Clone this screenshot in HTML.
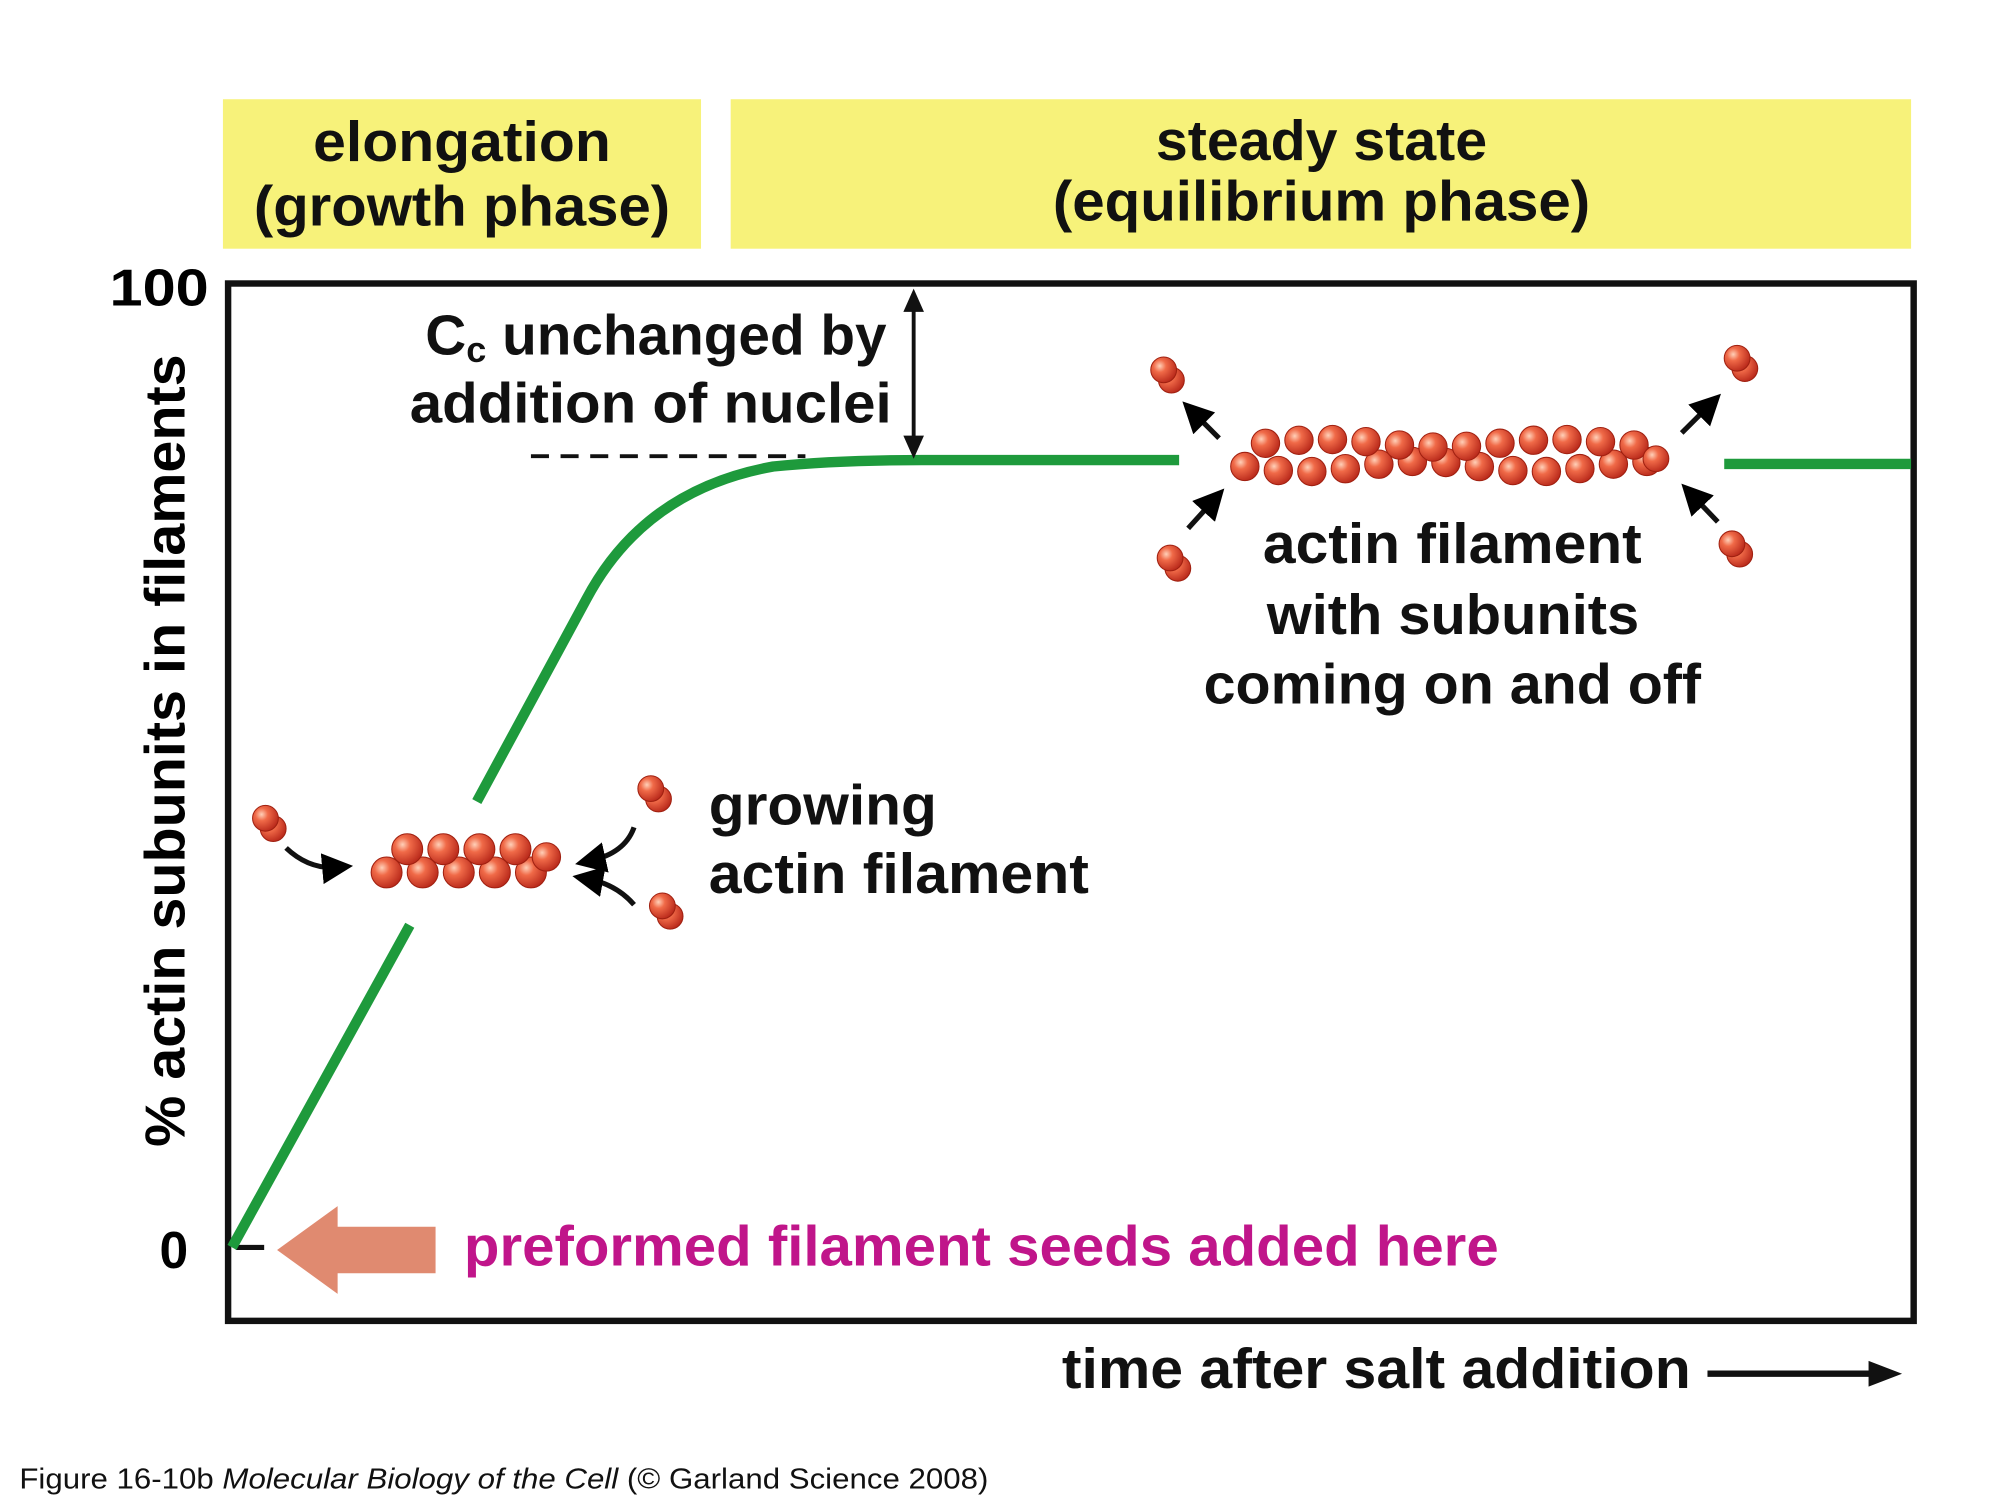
<!DOCTYPE html>
<html><head><meta charset="utf-8"><style>
html,body{margin:0;padding:0;background:#fff;}
svg{display:block;}
text{font-family:"Liberation Sans",sans-serif;font-weight:bold;}
</style></head><body>
<svg id="s" width="2000" height="1500" viewBox="0 0 1552 1164" preserveAspectRatio="none" xmlns="http://www.w3.org/2000/svg">
<defs>
<radialGradient id="b" cx="0.35" cy="0.35" r="0.7">
<stop offset="0" stop-color="#ffd0b8"/><stop offset="0.35" stop-color="#f06a48"/><stop offset="1" stop-color="#b8281a"/>
</radialGradient>
<marker id="ah" markerWidth="6" markerHeight="6" refX="3" refY="3" orient="auto" markerUnits="strokeWidth">
<path d="M0,0 L6,3 L0,6 z" fill="#000"/></marker>
</defs>
<rect x="173" y="77" width="371" height="116" fill="#f7f27a"/>
<rect x="567" y="77" width="916" height="116" fill="#f7f27a"/>
<g font-size="44" fill="#111" lengthAdjust="spacingAndGlyphs">
<text x="243" y="125" textLength="231" lengthAdjust="spacingAndGlyphs">elongation</text>
<text x="197" y="175" textLength="323" lengthAdjust="spacingAndGlyphs">(growth phase)</text>
<text x="897" y="124" textLength="257" lengthAdjust="spacingAndGlyphs">steady state</text>
<text x="817" y="171" textLength="417" lengthAdjust="spacingAndGlyphs">(equilibrium phase)</text>
</g>
<rect x="177" y="220" width="1308" height="805" fill="none" stroke="#111" stroke-width="5"/>
<text x="85" y="237" font-size="40" textLength="77" lengthAdjust="spacingAndGlyphs">100</text>
<text x="146" y="984" font-size="40" text-anchor="end">0</text>
<line x1="183" y1="968" x2="205" y2="968" stroke="#111" stroke-width="4"/>
<text transform="translate(143,890) rotate(-90)" font-size="44" textLength="615" lengthAdjust="spacingAndGlyphs">% actin subunits in filaments</text>
<g fill="none" stroke="#1e9a3c" stroke-width="8">
<path d="M180,968 L318,718"/>
<path d="M370,622 L455,465 Q500,380 600,362 Q650,357 715,357 L915,357"/>
<path d="M1338,360 L1483,360"/>
</g>
<line x1="412" y1="354" x2="625" y2="354" stroke="#111" stroke-width="3" stroke-dasharray="14,9"/>
<line x1="709" y1="238" x2="709" y2="342" stroke="#111" stroke-width="3"/>
<path d="M701,242 L709,224 L717,242 z M701,338 L709,356 L717,338 z" fill="#111"/>
<g font-size="44" fill="#111">
<text x="330" y="275" textLength="358" lengthAdjust="spacingAndGlyphs">C<tspan font-size="28" dy="6">c</tspan><tspan dy="-6"> unchanged by</tspan></text>
<text x="318" y="328" textLength="374" lengthAdjust="spacingAndGlyphs">addition of nuclei</text>
<text x="550" y="640" textLength="177" lengthAdjust="spacingAndGlyphs">growing</text>
<text x="550" y="693" textLength="295" lengthAdjust="spacingAndGlyphs">actin filament</text>
<text x="980" y="437" textLength="294" lengthAdjust="spacingAndGlyphs">actin filament</text>
<text x="983" y="492" textLength="289" lengthAdjust="spacingAndGlyphs">with subunits</text>
<text x="934" y="546" textLength="386" lengthAdjust="spacingAndGlyphs">coming on and off</text>
</g>
<path d="M338,952 L262,952 L262,936 L215,970 L262,1004 L262,988 L338,988 z" fill="#e08a70"/>
<text x="360" y="982" font-size="44" fill="#c0158a" textLength="803" lengthAdjust="spacingAndGlyphs">preformed filament seeds added here</text>
<text x="824" y="1077" font-size="44" fill="#111" textLength="488" lengthAdjust="spacingAndGlyphs">time after salt addition</text>
<line x1="1325" y1="1066" x2="1455" y2="1066" stroke="#111" stroke-width="5"/>
<path d="M1450,1056 L1476,1066 L1450,1076 z" fill="#111"/>
<g fill="none" stroke="#111" stroke-width="4" marker-end="url(#ah)">
<path d="M222,658 Q240,675 262,673"/>
<path d="M492,642 Q485,662 458,668"/>
<path d="M492,702 Q478,686 456,682"/>
<path d="M946,340 L926,320"/>
<path d="M922,410 L942,388"/>
<path d="M1305,336 L1327,314"/>
<path d="M1333,405 L1313,384"/>
</g>
<g id="balls"></g>
<text x="15" y="1155" font-size="22" style="font-weight:normal" fill="#111" textLength="752" lengthAdjust="spacingAndGlyphs">Figure 16-10b  <tspan font-style="italic">Molecular Biology of the Cell</tspan> (© Garland Science 2008)</text>
</svg>
<script>
var g=document.getElementById('balls'),ns='http://www.w3.org/2000/svg';
function c(x,y,r){var e=document.createElementNS(ns,'circle');e.setAttribute('cx',x);e.setAttribute('cy',y);e.setAttribute('r',r);e.setAttribute('fill','url(#b)');e.setAttribute('stroke','#a02010');e.setAttribute('stroke-width','0.8');g.appendChild(e);}
var i;
for(i=0;i<5;i++)c(300+i*28,677,12);
for(i=0;i<4;i++)c(316+i*28,659,12);
c(424,665,11);
for(i=0;i<13;i++)c(966+i*26,362+4*Math.sin(i*0.9),11);
for(i=0;i<12;i++)c(982+i*26,344-3*Math.sin(i*0.9),11);
c(1285,356,10);
[[208,638],[507,615],[516,706],[905,290],[910,436],[1350,281],[1346,425]].forEach(function(p){c(p[0]+4,p[1]+5,10);c(p[0]-2,p[1]-3,10);});
</script>
</body></html>
